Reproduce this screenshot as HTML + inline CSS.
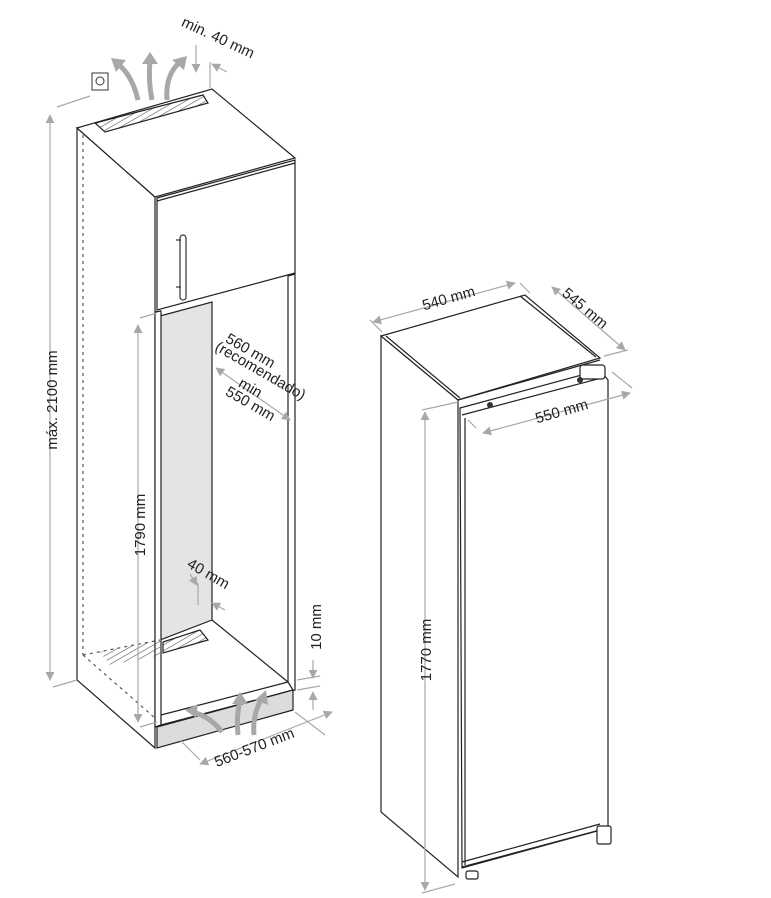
<!DOCTYPE html>
<html><head><meta charset="utf-8"><style>
html,body{margin:0;padding:0;background:#fff}
svg{display:block}
text{font-family:"Liberation Sans",Arial,sans-serif;font-size:15px;fill:#222}
</style></head><body>
<svg width="771" height="898" viewBox="0 0 771 898" xmlns="http://www.w3.org/2000/svg">
<defs>
<pattern id="h" width="5" height="5" patternUnits="userSpaceOnUse" patternTransform="rotate(60)">
<line x1="0" y1="0" x2="0" y2="5" stroke="#555" stroke-width="1.2"/></pattern>
<marker id="a" viewBox="0 0 10 10" refX="9" refY="5" markerWidth="9" markerHeight="9" orient="auto-start-reverse" markerUnits="userSpaceOnUse">
<path d="M0,0 L10,5 L0,10 z" fill="#a8a8a8"/></marker>
</defs>

<g stroke="#222" stroke-width="1.2" fill="#fff">
<polygon points="77,128 155,197 155,748 77,680"/>
<polygon points="77,128 212,89 295,158 155,197"/>
<polygon points="157,198 295,160 295,273 157,310"/>
<line x1="157" y1="201" x2="295" y2="163"/>
<polygon points="160,316 212,302 212,620 160,640" fill="#e4e4e4"/>
<polygon points="288,276 295,274 295,690 288,692"/>
<polygon points="155,312 161,311 161,725 155,727"/>
<line x1="212" y1="620" x2="288" y2="682"/>
<polygon points="161,715 288,682 293,690 161,725"/>
<polygon points="157,727 293,690 293,710 157,748" fill="#dcdcdc"/>
<polygon points="95,123 203,95 208,103 105,132" fill="url(#h)" stroke="#222"/>
<polygon points="163,642 200,630 208,640 163,653" fill="url(#h)" stroke="#222"/>
<polygon points="100,652 160,640 160,655 110,665" fill="url(#h)" stroke="none"/>
</g>
<g stroke="#333" stroke-width="1.2" fill="#fff">
<rect x="180" y="235" width="6" height="65" rx="3"/>
<line x1="176" y1="240" x2="181" y2="240"/><line x1="176" y1="287" x2="181" y2="287"/>
</g>
<g stroke="#555" stroke-width="1.2" stroke-dasharray="3,4" fill="none">
<line x1="83" y1="135" x2="83" y2="655"/>
<line x1="83" y1="655" x2="155" y2="718"/>
<line x1="83" y1="655" x2="160" y2="640"/>
</g>
<rect x="92" y="73" width="16" height="17" fill="#fff" stroke="#333"/>
<circle cx="100" cy="81" r="4" fill="none" stroke="#333"/>
<g stroke="#a8a8a8" stroke-width="5" fill="none">
<path d="M138,100 Q132,75 118,64"/>
<path d="M152,100 Q148,80 150,60"/>
<path d="M167,100 Q165,75 180,62"/>
<path d="M222,732 Q210,716 192,712"/>
<path d="M238,735 Q236,718 240,700"/>
<path d="M254,735 Q252,715 262,698"/>
</g>
<g fill="#a8a8a8">
<polygon points="111,58 126,60 116,72"/>
<polygon points="150,52 158,64 142,64"/>
<polygon points="187,56 184,70 172,60"/>
<polygon points="185,710 198,704 196,718"/>
<polygon points="240,692 248,704 232,704"/>
<polygon points="266,690 268,705 255,700"/>
</g>

<g stroke="#a8a8a8" stroke-width="1.2" fill="none">
<line x1="50" y1="115" x2="50" y2="680" marker-start="url(#a)" marker-end="url(#a)"/>
<line x1="57" y1="107" x2="90" y2="96"/>
<line x1="53" y1="687" x2="77" y2="680"/>
<line x1="138" y1="325" x2="138" y2="722" marker-start="url(#a)" marker-end="url(#a)"/>
<line x1="140" y1="318" x2="157" y2="313"/>
<line x1="140" y1="727" x2="157" y2="722"/>
<line x1="313" y1="660" x2="313" y2="678" marker-end="url(#a)"/>
<line x1="313" y1="710" x2="313" y2="692" marker-end="url(#a)"/>
<line x1="297" y1="680" x2="320" y2="676"/>
<line x1="297" y1="690" x2="320" y2="686"/>
<line x1="200" y1="764" x2="332" y2="712" marker-start="url(#a)" marker-end="url(#a)"/>
<line x1="180" y1="740" x2="200" y2="760"/>
<line x1="295" y1="712" x2="325" y2="735"/>
<line x1="216" y1="368" x2="290" y2="420" marker-start="url(#a)" marker-end="url(#a)"/>
<line x1="196" y1="45" x2="196" y2="72" marker-end="url(#a)"/>
<line x1="210" y1="62" x2="210" y2="88"/>
<line x1="227" y1="72" x2="212" y2="64" marker-end="url(#a)"/>
<line x1="198" y1="583" x2="198" y2="605"/>
<line x1="190" y1="574" x2="197" y2="585" marker-end="url(#a)"/>
<line x1="225" y1="610" x2="212" y2="603" marker-end="url(#a)"/>
</g>
<text transform="translate(57,400) rotate(-90)" text-anchor="middle">máx. 2100 mm</text>
<text transform="translate(145,525) rotate(-90)" text-anchor="middle">1790 mm</text>
<text transform="translate(321,627) rotate(-90)" text-anchor="middle">10 mm</text>
<text transform="translate(256,752) rotate(-21)" text-anchor="middle">560-570 mm</text>
<text transform="translate(216,42) rotate(25)" text-anchor="middle">min. 40 mm</text>
<text transform="translate(206,578) rotate(30)" text-anchor="middle">40 mm</text>
<g text-anchor="middle">
<text transform="translate(248,355) rotate(30)">560 mm</text>
<text transform="translate(258,375) rotate(30)">(recomendado)</text>
<text transform="translate(248,392) rotate(30)">min</text>
<text transform="translate(248,408) rotate(30)">550 mm</text>
</g>

<g stroke="#222" stroke-width="1.2" fill="#fff">
<polygon points="381,336 458,400 458,877 381,812"/>
<polygon points="381,336 525,295 600,358 458,400"/>
<line x1="386" y1="336" x2="460" y2="398"/>
<line x1="520" y1="296" x2="596" y2="357"/>
<polygon points="460,408 600,370 608,380 608,828 462,868"/>
<line x1="458" y1="400" x2="600" y2="360"/>
<line x1="462" y1="415" x2="605" y2="377"/>
<line x1="465" y1="418" x2="465" y2="865"/>
<line x1="462" y1="862" x2="600" y2="824"/>
<line x1="462" y1="867" x2="600" y2="830"/>
<rect x="580" y="365" width="25" height="14" rx="3"/>
<rect x="597" y="826" width="14" height="18" rx="2"/>
<rect x="466" y="871" width="12" height="8" rx="2"/>
</g>
<g fill="#333"><circle cx="490" cy="405" r="3"/><circle cx="580" cy="380" r="3"/></g>
<g stroke="#a8a8a8" stroke-width="1.2" fill="none">
<line x1="373" y1="322" x2="515" y2="283" marker-start="url(#a)" marker-end="url(#a)"/>
<line x1="370" y1="320" x2="382" y2="332"/>
<line x1="520" y1="283" x2="530" y2="293"/>
<line x1="552" y1="287" x2="625" y2="350" marker-start="url(#a)" marker-end="url(#a)"/>
<line x1="604" y1="356" x2="628" y2="350"/>
<line x1="483" y1="433" x2="630" y2="393" marker-start="url(#a)" marker-end="url(#a)"/>
<line x1="476" y1="428" x2="468" y2="420"/>
<line x1="612" y1="372" x2="632" y2="388"/>
<line x1="425" y1="412" x2="425" y2="890" marker-start="url(#a)" marker-end="url(#a)"/>
<line x1="422" y1="410" x2="458" y2="402"/>
<line x1="422" y1="893" x2="455" y2="884"/>
</g>
<text transform="translate(450,303) rotate(-16)" text-anchor="middle">540 mm</text>
<text transform="translate(582,312) rotate(40)" text-anchor="middle">545 mm</text>
<text transform="translate(563,416) rotate(-16)" text-anchor="middle">550 mm</text>
<text transform="translate(431,650) rotate(-90)" text-anchor="middle">1770 mm</text>
</svg>
</body></html>
